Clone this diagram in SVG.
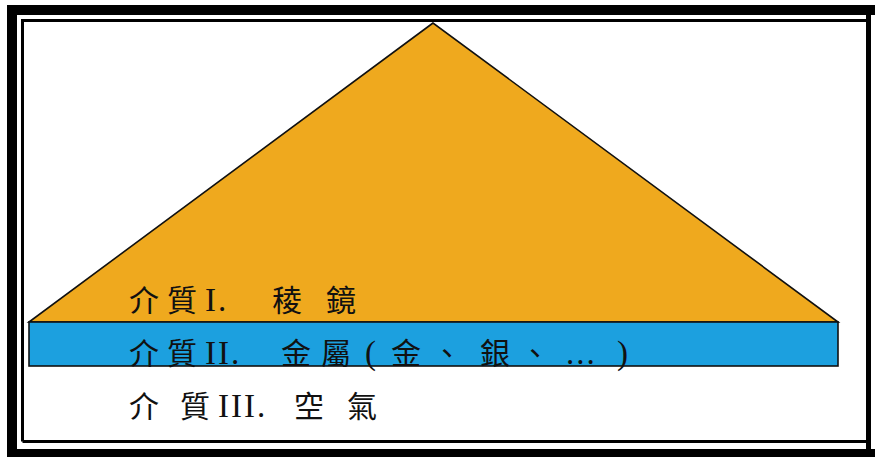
<svg xmlns="http://www.w3.org/2000/svg" width="875" height="457" viewBox="0 0 875 457">
<style>
.cjk{font-family:"Noto Sans CJK TC","Noto Sans CJK SC",sans-serif;font-size:30px;fill:#111}
.lat{font-family:"Liberation Serif",serif;font-size:33px;fill:#111;letter-spacing:2px}
.edge{stroke:#111;stroke-width:1.6;stroke-linejoin:miter}
</style>
<rect width="875" height="457" fill="#ffffff"/>
<g id="frame" fill="#000">
<rect x="7" y="5" width="868" height="10"/>
<rect x="7" y="5" width="10" height="452"/>
<rect x="7" y="449" width="868" height="8"/>
<rect x="866" y="5" width="5" height="452"/>
<path d="M22.5,441.5 V20.5 H866" fill="none" stroke="#000" stroke-width="3"/>
<path d="M22.5,441.5 H866" fill="none" stroke="#000" stroke-width="3"/>
</g>
<g id="prism">
<polygon class="edge" points="433,23 29,322 838,322" fill="#EFA91E"/>
<text class="cjk" x="129" y="311">介</text>
<text class="cjk" x="167" y="311">質</text>
<text class="lat" x="205" y="311">I.</text>
<text class="cjk" x="272" y="311">稜</text>
<text class="cjk" x="326" y="311">鏡</text>
</g>
<g id="metal">
<rect class="edge" x="29" y="322" width="809" height="44" fill="#1CA0DF"/>
<text class="cjk" x="129" y="364">介</text>
<text class="cjk" x="167" y="364">質</text>
<text class="lat" x="205" y="364">II.</text>
<text class="cjk" x="281" y="364">金</text>
<text class="cjk" x="321" y="364">屬</text>
<text class="lat" x="365" y="364">(</text>
<text class="cjk" x="391" y="364">金</text>
<text class="cjk" x="432" y="364">、</text>
<text class="cjk" x="480" y="364">銀</text>
<text class="cjk" x="520" y="364">、</text>
<text class="lat" x="566" y="364">...</text>
<text class="lat" x="617" y="364">)</text>
</g>
<g id="air">
<text class="cjk" x="129" y="417">介</text>
<text class="cjk" x="180" y="417">質</text>
<text class="lat" x="218" y="417">III.</text>
<text class="cjk" x="294" y="417">空</text>
<text class="cjk" x="347" y="417">氣</text>
</g>
<g id="connectors"/>
</svg>
